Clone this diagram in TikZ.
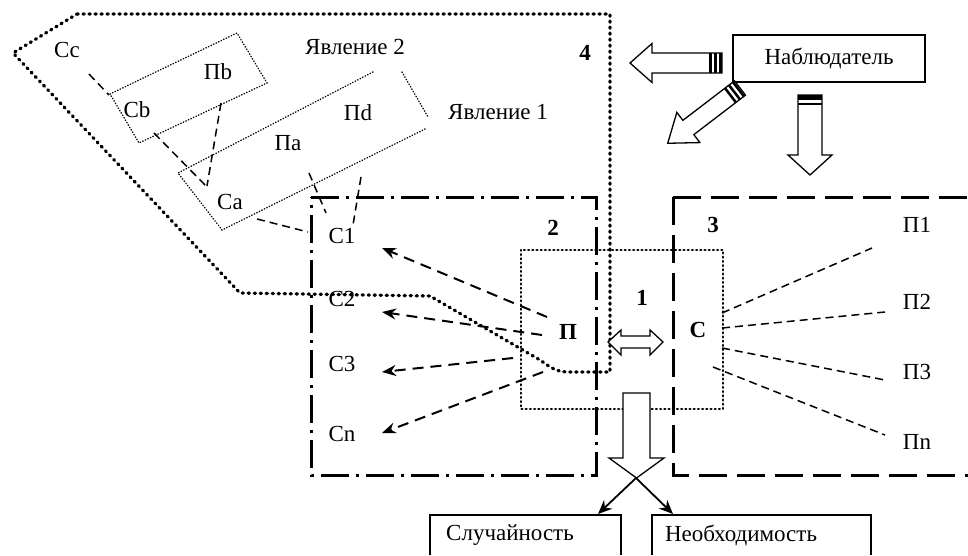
\documentclass[tikz,border=0pt]{standalone}
\usepackage{fontspec}
\setmainfont{Liberation Serif}
\usetikzlibrary{arrows.meta}
\begin{document}
\begin{tikzpicture}[x=1pt,y=-1pt,
  lbl/.style={inner sep=0pt, font=\fontsize{23}{25}\selectfont},
  blbl/.style={inner sep=0pt, font=\fontsize{23}{25}\selectfont\bfseries},
  bigdot/.style={line width=3.3pt, line cap=round, dash pattern=on 1.2pt off 4.8pt},
  meddot/.style={line width=2.5pt, line cap=round, dash pattern=on 0.8pt off 3.4pt},
  thindot/.style={line width=1.4pt, line cap=round, dash pattern=on 0.5pt off 2.3pt},
  dashdotbox/.style={line width=3pt, dash pattern=on 28pt off 7pt on 3pt off 7pt},
  dashbox/.style={line width=3pt, dash pattern=on 28pt off 10pt},
  conn/.style={line width=1.5pt, dash pattern=on 8pt off 5pt},
  arrconn/.style={line width=2pt, dash pattern=on 11pt off 7pt, -{Stealth[length=14pt,width=11pt]}},
  solidarr/.style={line width=1.8pt, -{Stealth[length=14pt,width=12pt]}},
  blockarrow/.style={line width=1.3pt, fill=white, line join=miter},
  plainbox/.style={line width=1.3pt},
]
\useasboundingbox[fill=white] (0,0) rectangle (968,555);

% region boxes
\draw[dashdotbox] (311,197) -- (596,197) -- (596,475) -- (311,475) -- cycle;
\draw[dashbox] (673,197) -- (968,197);
\draw[dashbox] (673,197) -- (673,475) -- (968,475);
\draw[meddot] (521,250) rectangle (723,409);

% region 4 (big dotted outline)
\draw[bigdot] (77,14) -- (610,14) -- (610,372) -- (568,372)
  .. controls (556,372) and (550,367) .. (540,360) -- (430,296) -- (240,293) -- (13,53) -- cycle;

% phenomenon rectangles
\draw[thindot] (110,94) -- (237,33) -- (267,83) -- (139,143) -- cycle;
\draw[thindot] (373,72) -- (178,173) -- (222,230) -- (427,128);
\draw[thindot] (402,72) -- (428,117);

% labels upper-left
\node[lbl] (Cc) at (67,50) {Сc};
\node[lbl] (Pb) at (218,72) {Пb};
\node[lbl] (Cb) at (137,110) {Сb};
\node[lbl] (Pd) at (358,113) {Пd};
\node[lbl] (Pa) at (288,143) {Пa};
\node[lbl] (Ca) at (230,202) {Сa};
\node[lbl] (Yav2) at (355,47) {Явление 2};
\node[lbl] (Yav1) at (498,112) {Явление 1};

% C labels
\node[lbl] (C1) at (342,236) {С1};
\node[lbl] (C2) at (342,299) {С2};
\node[lbl] (C3) at (342,364) {С3};
\node[lbl] (Cn) at (342,434) {Сn};

% P labels
\node[lbl] (P1) at (917,225) {П1};
\node[lbl] (P2) at (917,302) {П2};
\node[lbl] (P3) at (917,372) {П3};
\node[lbl] (Pn) at (917,442) {Пn};

% bold labels
\node[blbl] (n1) at (642,298) {1};
\node[blbl] (n2) at (553,228) {2};
\node[blbl] (n3) at (713,225) {3};
\node[blbl] (n4) at (585,53) {4};
\node[blbl] (PP) at (568,332) {П};
\node[blbl] (CC) at (698,330) {С};

% thin dashed links upper-left
\coordinate (cc1) at (89,74);   \coordinate (cb1) at (109,95);
\coordinate (cb2) at (154,133); \coordinate (ca1) at (207,187);
\coordinate (pb1) at (221,103); \coordinate (ca2) at (207,186);
\coordinate (pa1) at (309,173); \coordinate (c1a) at (326,213);
\coordinate (pd1) at (361,177); \coordinate (c1b) at (353,225);
\coordinate (ca3) at (257,219); \coordinate (c1c) at (308,232);
\draw[conn] (cc1) -- (cb1);
\draw[conn] (cb2) -- (ca1);
\draw[conn] (pb1) -- (ca2);
\draw[conn] (pa1) -- (c1a);
\draw[conn] (pd1) -- (c1b);
\draw[conn] (ca3) -- (c1c);

% dashed arrows from П to C's
\coordinate (s1) at (547,317); \coordinate (e1) at (382,248);
\coordinate (s2) at (542,335); \coordinate (e2) at (382,312);
\coordinate (s3) at (513,358); \coordinate (e3) at (382,372);
\coordinate (s4) at (543,372); \coordinate (e4) at (382,433);
\draw[arrconn] (s1) -- (e1);
\draw[arrconn] (s2) -- (e2);
\draw[arrconn] (s3) -- (e3);
\draw[arrconn] (s4) -- (e4);

% dashed lines from С to П's
\coordinate (r1) at (722,313); \coordinate (q1) at (872,248);
\coordinate (r2) at (722,328); \coordinate (q2) at (885,312);
\coordinate (r3) at (722,348); \coordinate (q3) at (885,380);
\coordinate (r4) at (713,367); \coordinate (q4) at (885,435);
\draw[conn] (r1) -- (q1);
\draw[conn] (r2) -- (q2);
\draw[conn] (r3) -- (q3);
\draw[conn] (r4) -- (q4);

% double arrow
\draw[blockarrow] (608,342) -- (621,330) -- (621,336) -- (650,336) -- (650,330) -- (663,342)
  -- (650,355) -- (650,348) -- (621,348) -- (621,355) -- cycle;

% down block arrow from box 1
\begin{scope}[shift={(636.5,393)}, rotate=270]
  \draw[blockarrow] (0,-13.5) -- (65,-13.5) -- (65,-27.5) -- (85,0) -- (65,27.5) -- (65,13.5) -- (0,13.5) -- cycle;
\end{scope}
\coordinate (tip) at (636,478);
\coordinate (toS) at (598,514);
\coordinate (toN) at (673,514);
\draw[solidarr] (tip) -- (toS);
\draw[solidarr] (tip) -- (toN);

% bottom boxes (open at the bottom edge)
\draw[plainbox] (430,555) -- (430,515) -- (621,515) -- (621,555);
\draw[plainbox] (652,555) -- (652,515) -- (871,515) -- (871,555);
\node[lbl] (Sl) at (510,535) {Случайность};
\node[lbl] (Neo) at (741,535) {Необходимость};

% observer
\node[draw, plainbox, lbl, minimum width=192pt, minimum height=47pt] (obs) at (829,58.5) {Наблюдатель};

% observer arrows
\begin{scope}[shift={(722,63)}, rotate=180]
  \draw[blockarrow] (0,-10) -- (70,-10) -- (70,-19.5) -- (92,0) -- (70,19.5) -- (70,10) -- (0,10) -- cycle;
  \foreach \s in {2,7,12} \draw[line width=3pt] (\s,-10) -- (\s,10);
\end{scope}
\begin{scope}[shift={(740,88)}, rotate=217.4]
  \draw[blockarrow] (0,-9) -- (65,-9) -- (65,-19) -- (91,0) -- (65,19) -- (65,9) -- (0,9) -- cycle;
  \foreach \s in {2,7,12} \draw[line width=2.5pt] (\s,-9) -- (\s,9);
\end{scope}
\begin{scope}[shift={(810,95)}, rotate=270]
  \draw[blockarrow] (0,-12) -- (60,-12) -- (60,-22) -- (80,0) -- (60,22) -- (60,12) -- (0,12) -- cycle;
  \draw[line width=5pt] (2.5,-12) -- (2.5,12);
  \draw[line width=2pt] (9,-12) -- (9,12);
\end{scope}
\end{tikzpicture}
\end{document}
